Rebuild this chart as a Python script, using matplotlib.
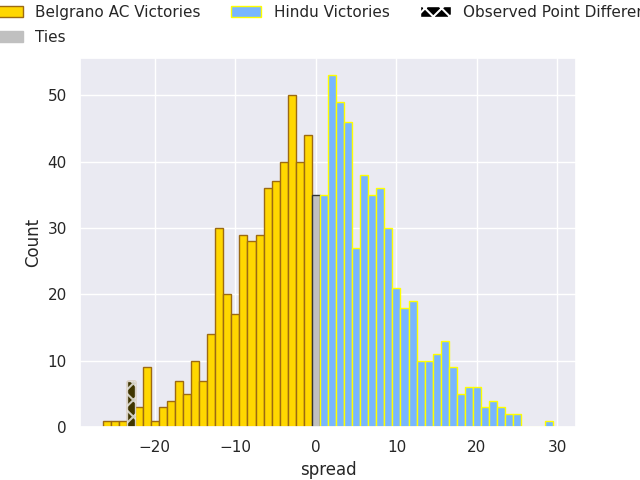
import numpy as np
import matplotlib
matplotlib.use("Agg")
import matplotlib.pyplot as plt
from matplotlib.patches import Patch
import seaborn as sns

sns.set_theme(style="darkgrid")
plt.rcParams["hatch.linewidth"] = 1.5

# spread counts
belgrano_spread = list(range(-26, 0))
belgrano_count = [1, 1, 1, 7, 3, 9, 1, 3, 4, 7, 5, 10, 7, 14, 30, 20, 17, 29, 28, 29,
                  36, 37, 40, 50, 40, 44]
tie_spread = [0]
tie_count = [35]
hindu_spread = list(range(1, 30))
hindu_count = [35, 53, 49, 46, 27, 38, 35, 36, 30, 21, 18, 19, 10, 10, 11, 13, 9, 5, 6, 6,
               3, 4, 3, 2, 2, 0, 0, 0, 1]
observed_spread = [-23]
observed_count = [7]

gold = "#ffd700"
gold_edge = "#9c6a12"
blue = "#78b6ff"
yellow = "#ffff00"
silver = "#c0c0c0"

fig, ax = plt.subplots(figsize=(6.4, 4.8), dpi=100)

ax.bar(belgrano_spread, belgrano_count, width=1, color=gold, edgecolor=gold_edge, linewidth=1)
ax.bar(tie_spread, tie_count, width=1, color=silver, edgecolor="#333333", linewidth=1)
ax.bar(hindu_spread, hindu_count, width=1, color=blue, edgecolor=yellow, linewidth=1)
ax.bar(observed_spread, observed_count, width=1, color="black", edgecolor="white",
       hatch="xx", alpha=0.75, linewidth=1)

ax.set_xlabel("spread")
ax.set_ylabel("Count")

handles = [
    Patch(facecolor=gold, edgecolor=gold_edge, label="Belgrano AC Victories"),
    Patch(facecolor=silver, edgecolor=silver, label="Ties"),
    Patch(facecolor=blue, edgecolor=yellow, label="Hindu Victories"),
    Patch(facecolor="black", edgecolor="white", hatch="xx", label="Observed Point Difference"),
]
# legend centred over the axes, running past the figure edges like the original
fig.legend(handles=handles, loc="upper center", bbox_to_anchor=(0.5125, 1.019), ncol=3,
           frameon=False, fontsize=11, labelspacing=0.65)

fig.savefig("out.png", dpi=100)
